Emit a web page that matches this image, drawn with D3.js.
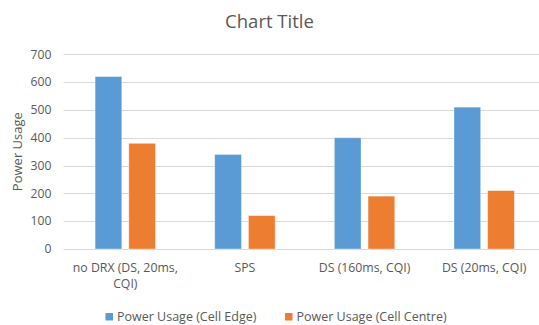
<!DOCTYPE html>
<html>
<head>
<meta charset="utf-8">
<script src="https://cdn.jsdelivr.net/npm/d3@7"></script>
<style>
  body { margin: 0; background: #fff; }
  svg { display: block; font-family: "Open Sans", "Noto Sans", sans-serif; }
</style>
</head>
<body>
<div id="chart"></div>
<script>
// Chart data
const categories = [["no DRX (DS, 20ms,", "CQI)"], ["SPS"], ["DS (160ms, CQI)"], ["DS (20ms, CQI)"]];
const seriesNames = ["Power Usage (Cell Edge)", "Power Usage (Cell Centre)"];
const cellEdge = [620, 340, 400, 510];
const cellCentre = [380, 120, 190, 210];
const yTicks = [0, 100, 200, 300, 400, 500, 600, 700];

const width = 539, height = 325;
const colors = ["#5B9BD5", "#ED7D31"];
const textColor = "#595959";

const svg = d3.select("#chart").append("svg")
    .attr("width", width)
    .attr("height", height);

// plot area (right edge runs past the crop, like the reference)
const plot = { left: 65.5, right: 544, top: 54.3, bottom: 249 };

const keys = categories.map((c, i) => i);
const x0 = d3.scaleBand()
    .domain(keys)
    .range([plot.left, plot.right])
    .paddingInner(0.495)
    .paddingOuter(0.2475);

const x1 = d3.scaleBand()
    .domain([0, 1])
    .range([0, x0.bandwidth()])
    .paddingInner(0.208);

const y = d3.scaleLinear()
    .domain([0, 700])
    .range([plot.bottom, plot.top]);

// Gridlines
svg.append("g")
    .selectAll("line")
    .data(yTicks)
    .join("line")
    .attr("x1", plot.left - 2)
    .attr("x2", plot.right)
    .attr("y1", d => Math.round(y(d)) + 0.5)
    .attr("y2", d => Math.round(y(d)) + 0.5)
    .attr("stroke", "#d9d9d9")
    .attr("stroke-width", 1);

// Y tick labels
svg.append("g")
    .selectAll("text")
    .data(yTicks)
    .join("text")
    .attr("x", 51.5)
    .attr("y", d => y(d))
    .attr("dy", "0.35em")
    .attr("text-anchor", "end")
    .attr("font-size", 12.2)
    .attr("fill", textColor)
    .text(d => d);

// Bars
const rows = keys.map(i => [cellEdge[i], cellCentre[i]]);
const groups = svg.append("g")
    .selectAll("g")
    .data(rows)
    .join("g")
    .attr("transform", (d, i) => `translate(${x0(i)},0)`);

groups.selectAll("rect")
    .data(d => d.map((v, s) => ({ v, s })))
    .join("rect")
    .attr("x", d => x1(d.s))
    .attr("width", x1.bandwidth())
    .attr("y", d => y(d.v))
    .attr("height", d => y(0) - y(d.v))
    .attr("fill", d => colors[d.s])
    .attr("stroke", "#fff")
    .attr("stroke-opacity", 0.45)
    .attr("stroke-width", 0.8);

// X category labels
const xLabels = svg.append("g")
    .selectAll("text")
    .data(categories)
    .join("text")
    .attr("x", (d, i) => x0(i) + x0.bandwidth() / 2)
    .attr("y", 272)
    .attr("text-anchor", "middle")
    .attr("font-size", 12.3)
    .attr("fill", textColor);

xLabels.selectAll("tspan")
    .data(d => d)
    .join("tspan")
    .attr("x", function () { return d3.select(this.parentNode).attr("x"); })
    .attr("dy", (d, i) => i === 0 ? 0 : 16)
    .text(d => d);

// Y axis title
svg.append("text")
    .attr("transform", `translate(22,${(plot.top + plot.bottom) / 2}) rotate(-90)`)
    .attr("text-anchor", "middle")
    .attr("font-size", 13)
    .attr("fill", textColor)
    .text("Power Usage");

// Chart title
svg.append("text")
    .attr("x", width / 2)
    .attr("y", 28)
    .attr("text-anchor", "middle")
    .attr("font-size", 18.5)
    .attr("fill", textColor)
    .text("Chart Title");

// Legend
const legendX = [105.5, 285];
const legend = svg.append("g")
    .selectAll("g")
    .data(seriesNames)
    .join("g")
    .attr("transform", (d, i) => `translate(${legendX[i]},317)`);

legend.append("rect")
    .attr("x", 0)
    .attr("y", -4)
    .attr("width", 7.5)
    .attr("height", 7.5)
    .attr("fill", (d, i) => colors[i]);

legend.append("text")
    .attr("x", 11.5)
    .attr("y", 0)
    .attr("dy", "0.35em")
    .attr("font-size", 12.5)
    .attr("fill", textColor)
    .text(d => d);
</script>
</body>
</html>
